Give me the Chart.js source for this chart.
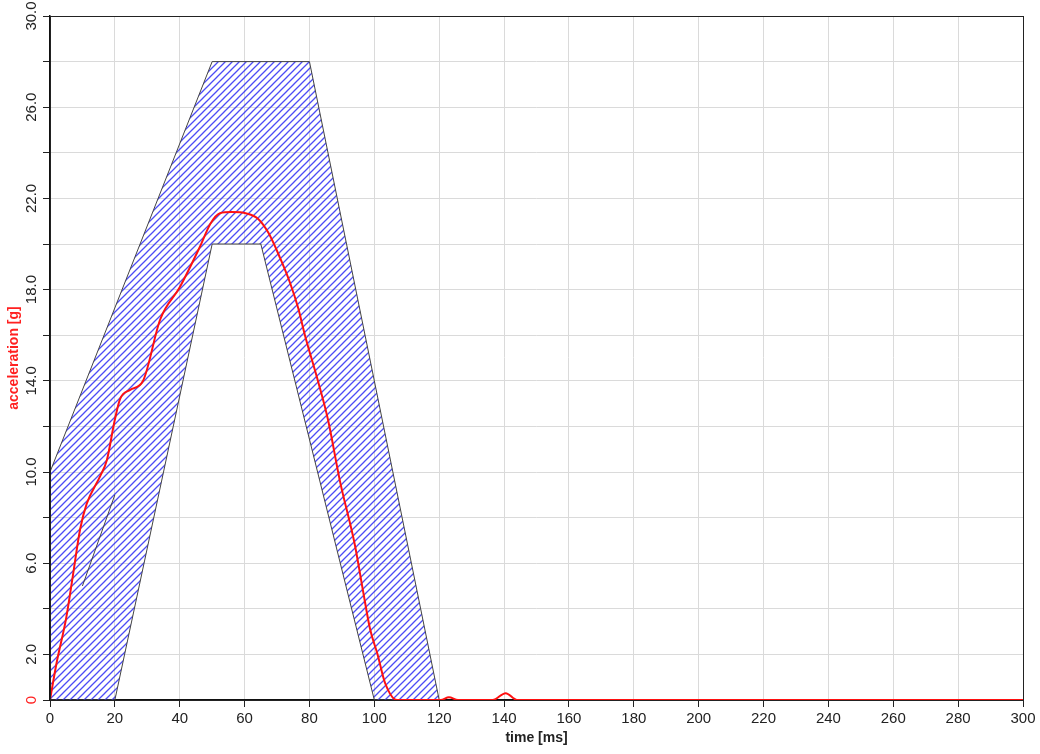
<!DOCTYPE html>
<html>
<head>
<meta charset="utf-8">
<script src="https://cdn.jsdelivr.net/npm/chart.js@4"></script>
<style>
	body { margin: 0; background: #fff; }
	#wrap { width: 1040px; height: 754px; }
</style>
</head>
<body>
<div id="wrap"><canvas id="sledChart" width="1040" height="754"></canvas></div>
<script>
// measured pulse (red trace)
const timeMs = [ 0, 2, 5, 7, 9.3, 11.3, 15.4, 17.5, 20, 21.6, 24.7, 28.7, 34, 40, 46.3, 49.5, 52.4, 56, 60.6, 64.2, 67.3, 70.9, 74, 76.5, 78.6, 82.6, 85.7, 89.4, 94, 96.5, 98.7, 101, 103.3, 107, 120.5, 123, 125.8, 136.5, 140.5, 144, 300 ]
const accelG = [ 0, 1.6, 3.6, 5.4, 7.5, 8.6, 9.8, 10.5, 12.3, 13.2, 13.6, 14.0, 16.7, 18.1, 19.9, 20.9, 21.35, 21.4, 21.34, 21.1, 20.5, 19.4, 18.3, 17.2, 16.0, 14.0, 12.3, 9.6, 6.8, 4.8, 3.1, 2.0, 0.75, 0, 0, 0.12, 0, 0, 0.3, 0, 0 ]

// corridor outline (upper + lower bound, closed)
const corridorT = [ 0, 0, 50, 80, 120, 100, 65, 50, 20, 0 ]
const corridorG = [ 0, 10, 28, 28, 0, 0, 20, 20, 0, 0 ]

// stray segment inside corridor
const innerT = [ 10, 20 ]
const innerG = [ 5, 9 ]

const xTicks = { min: 0, max: 300, step: 20 }
const yTicks = { min: 0, max: 30, step: 2 }

const toPoints = (xs, ys) => xs.map((x, i) => ({ x, y: ys[i] }))

// blue diagonal hatch
const hatch = (() => {
	const s = 7
	const c = document.createElement('canvas')
	c.width = s
	c.height = s
	const g = c.getContext('2d')
	g.strokeStyle = 'rgba(45, 45, 245, 0.85)'
	g.lineWidth = 1.3
	g.beginPath()
	g.moveTo(0, s); g.lineTo(s, 0)
	g.moveTo(-1, 1); g.lineTo(1, -1)
	g.moveTo(s - 1, s + 1); g.lineTo(s + 1, s - 1)
	g.stroke()
	return g.createPattern(c, 'repeat')
})()

const framePlugin = {
	id: 'frame',
	afterDraw(chart) {
		const { ctx, chartArea: a } = chart
		ctx.save()
		ctx.strokeStyle = '#222'
		ctx.lineWidth = 1
		ctx.strokeRect(a.left + 0.5, a.top + 0.5, a.right - a.left, a.bottom - a.top)
		ctx.restore()
	}
}

const tickFont = { family: 'Liberation Sans, Arial', size: 15 }
const titleFont = { family: 'Liberation Sans, Arial', size: 14, weight: 'bold' }

new Chart(document.getElementById('sledChart'), {
	type: 'line',
	data: {
		datasets: [ {
			data: toPoints(timeMs, accelG),
			borderColor: '#ff1010',
			borderWidth: 2,
			pointRadius: 0,
			fill: false,
			cubicInterpolationMode: 'monotone',
			order: 0
		}, {
			data: toPoints(innerT, innerG),
			borderColor: '#444',
			borderWidth: 1,
			pointRadius: 0,
			fill: false,
			order: 1
		}, {
			data: toPoints(corridorT, corridorG),
			borderColor: '#444',
			borderWidth: 1,
			pointRadius: 0,
			backgroundColor: hatch,
			fill: 'shape',
			order: 2
		} ]
	},
	options: {
		responsive: false,
		devicePixelRatio: 1,
		animation: false,
		layout: { padding: { top: 16, right: 17, left: 0, bottom: 0 } },
		plugins: {
			legend: { display: false },
			tooltip: { enabled: false }
		},
		scales: {
			x: {
				type: 'linear',
				min: xTicks.min,
				max: xTicks.max,
				afterFit: (s) => { s.height = 54 },
				ticks: {
					stepSize: xTicks.step,
					font: tickFont,
					color: '#222',
					padding: 3,
					maxRotation: 0
				},
				grid: { color: '#dadada', tickColor: '#222', tickLength: 7 },
				border: { color: '#111', width: 1.5 },
				title: { display: true, text: 'time [ms]', font: titleFont, color: '#222', padding: { top: 0, bottom: 7 } }
			},
			y: {
				min: yTicks.min,
				max: yTicks.max,
				afterFit: (s) => { s.width = 50 },
				ticks: {
					stepSize: yTicks.step,
					font: tickFont,
					minRotation: 90,
					maxRotation: 90,
					crossAlign: 'center',
					padding: -3,
					autoSkip: false,
					color: (c) => c.tick.value === 0 ? '#ff2020' : '#222',
					callback: (v) => v === 0 ? '0' : ((v - 2) % 4 === 0 ? v.toFixed(1) : '')
				},
				grid: { color: '#dadada', tickColor: '#222', tickLength: 7 },
				border: { color: '#111', width: 1.5 },
				title: { display: true, text: 'acceleration [g]', font: titleFont, color: '#ff2020', padding: { top: 6, bottom: 0 } }
			}
		}
	},
	plugins: [ framePlugin ]
})
</script>
</body>
</html>
